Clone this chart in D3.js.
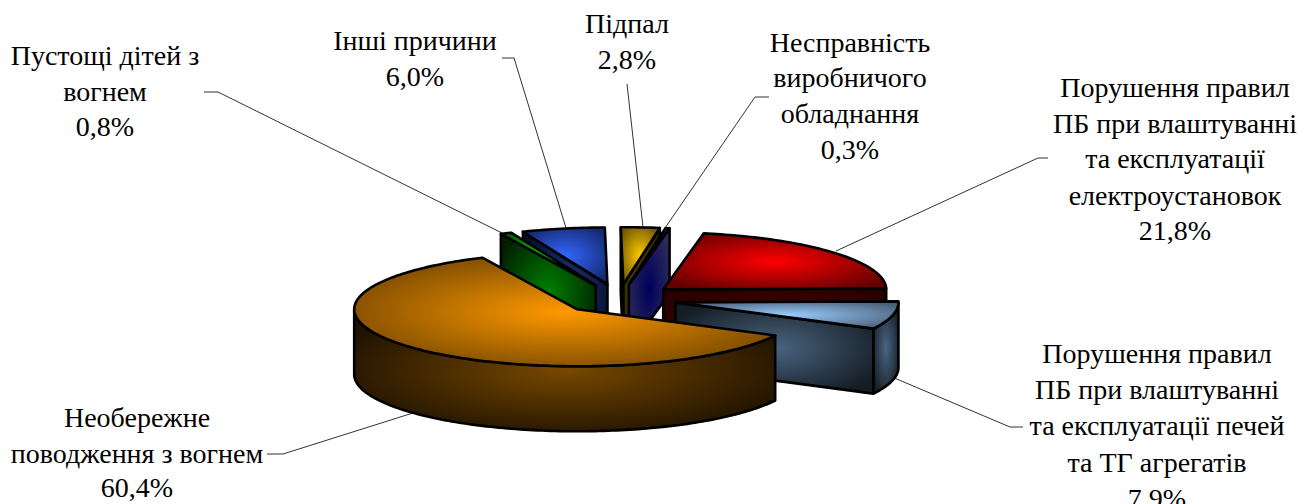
<!DOCTYPE html>
<html>
<head>
<meta charset="utf-8">
<script src="https://cdn.jsdelivr.net/npm/d3@7"></script>
<style>
    html, body { margin: 0; background: #fff; }
    text { font-family: "Liberation Serif", serif; font-size: 28px; fill: #000; text-anchor: middle; }
</style>
</head>
<body>
<div id="chart-area"></div>
<script>
// data, clockwise starting from the big slice
var categories = ["Необережне поводження з вогнем", "Пустощі дітей з вогнем", "Інші причини", "Підпал",
    "Несправність виробничого обладнання", "Порушення правил ПБ при влаштуванні та експлуатації електроустановок",
    "Порушення правил ПБ при влаштуванні та експлуатації печей та ТГ агрегатів"];
var values = [60.4, 0.8, 6.0, 2.8, 0.3, 21.8, 7.9];
var valueLabels = ["60,4%", "0,8%", "6,0%", "2,8%", "0,3%", "21,8%", "7,9%"];

var width = 1300, height = 504;

// pie geometry, angles are clockwise from north
var cx = 619, cy = 299, rx = 223, ry = 57, depth = 65, explode = 0.26;
var firstAngle = 117.4 * Math.PI / 180;

// top face colours [center, edge], side face colours [center, edge]
var shades = [
    {top: ["#ff9900", "#744600"], side: ["#774800", "#1c1000"]},
    {top: ["#00e000", "#006000"], side: ["#008000", "#001e00"]},
    {top: ["#3366ff", "#142a70"], side: ["#1c3880", "#060e2a"]},
    {top: ["#ffcc00", "#705800"], side: ["#5a4800", "#2a2200"]},
    {top: ["#000080", "#1c1c50"], side: ["#00005c", "#2e2e58"]},
    {top: ["#ff0000", "#640000"], side: ["#4a0000", "#280000"]},
    {top: ["#99ccff", "#4a6078"], side: ["#4a6480", "#141c24"]}
];

// back to front
var drawOrder = [2, 1, 3, 4, 5, 6, 0];

// text lines and leader lines for each slice
var labelLayout = [
    {x: 137, y: [427, 463, 497], lines: ["Необережне", "поводження з вогнем", valueLabels[0]],
        leader: [[267, 454], [283, 454], [413, 413]]},
    {x: 105, y: [65, 101, 136], lines: ["Пустощі дітей з", "вогнем", valueLabels[1]],
        leader: [[204, 92], [218, 92], [502, 233]]},
    {x: 415, y: [50, 86], lines: ["Інші причини", valueLabels[2]],
        leader: [[502, 58], [514, 58], [566, 228]]},
    {x: 627, y: [33, 69], lines: ["Підпал", valueLabels[3]],
        leader: [[627, 84], [627, 84], [643, 227]]},
    {x: 850, y: [52, 87, 123, 159], lines: ["Несправність", "виробничого", "обладнання", valueLabels[4]],
        leader: [[769, 97], [755, 97], [665, 228]]},
    {x: 1175, y: [97, 133, 168, 205, 240], lines: ["Порушення правил", "ПБ при влаштуванні", "та експлуатації", "електроустановок", valueLabels[5]],
        leader: [[1048, 158], [1038, 158], [836, 251]]},
    {x: 1157, y: [363, 399, 435, 472, 508], lines: ["Порушення правил", "ПБ при влаштуванні", "та експлуатації печей", "та ТГ агрегатів", valueLabels[6]],
        leader: [[1023, 427], [1010, 427], [892, 377]]}
];

var svg = d3.select("#chart-area").append("svg")
    .attr("width", width)
    .attr("height", height)
    .style("display", "block");

var defs = svg.append("defs");

function addGradient(id, colors) {
    var grad = defs.append("radialGradient")
        .attr("id", id)
        .attr("cx", "50%").attr("cy", "50%").attr("r", "60%");
    grad.append("stop").attr("offset", "0%").attr("stop-color", colors[0]);
    grad.append("stop").attr("offset", "100%").attr("stop-color", colors[1]);
}

shades.forEach(function(s, i) {
    addGradient("top" + i, s.top);
    addGradient("side" + i, s.side);
});

var slices = d3.pie()
    .sort(null)
    .startAngle(firstAngle)
    .endAngle(firstAngle + 2 * Math.PI)(values);

var line = d3.line();

// point on the top rim of a slice with center c
function rim(c, a) {
    return [c[0] + rx * Math.sin(a), c[1] - ry * Math.cos(a)];
}

function drop(p) {
    return [p[0], p[1] + depth];
}

function arcPoints(c, a0, a1) {
    var n = Math.max(2, Math.ceil(Math.abs(a1 - a0) / 0.02));
    return d3.range(n + 1).map(function(i) {
        return rim(c, a0 + (a1 - a0) * i / n);
    });
}

function face(points, fill) {
    svg.append("path")
        .attr("d", line(points) + "Z")
        .attr("fill", fill)
        .attr("stroke", "#000")
        .attr("stroke-width", 2.6)
        .attr("stroke-linejoin", "round");
}

// leaders go under the pie
labelLayout.forEach(function(d) {
    svg.append("path")
        .attr("d", line(d.leader))
        .attr("fill", "none")
        .attr("stroke", "#333")
        .attr("stroke-width", 1);
});

drawOrder.forEach(function(i) {
    var d = slices[i];
    var mid = (d.startAngle + d.endAngle) / 2;
    var c = [cx + explode * rx * Math.sin(mid), cy - explode * ry * Math.cos(mid)];
    var sideFill = "url(#side" + i + ")";

    // slices past north have angles above 2 pi
    var turn = d.startAngle >= 2 * Math.PI ? 2 * Math.PI : 0;
    var start = d.startAngle - turn, end = d.endAngle - turn;

    // cut faces that look toward the viewer
    if (Math.cos(start - Math.PI / 2) < -0.01) {
        var p0 = rim(c, start);
        face([c, p0, drop(p0), drop(c)], sideFill);
    }
    if (Math.cos(end + Math.PI / 2) < -0.01) {
        var p1 = rim(c, end);
        face([c, p1, drop(p1), drop(c)], sideFill);
    }

    // outer wall, only the front half of the ellipse shows
    var a0 = Math.max(start, Math.PI / 2),
        a1 = Math.min(end, 3 * Math.PI / 2);
    if (a1 > a0) {
        var upper = arcPoints(c, a0, a1);
        face(upper.concat(upper.map(drop).reverse()), sideFill);
    }

    // top face
    face([c].concat(arcPoints(c, start, end)), "url(#top" + i + ")");
});

labelLayout.forEach(function(d) {
    d.lines.forEach(function(t, j) {
        svg.append("text")
            .attr("x", d.x)
            .attr("y", d.y[j])
            .text(t);
    });
});
</script>
</body>
</html>
